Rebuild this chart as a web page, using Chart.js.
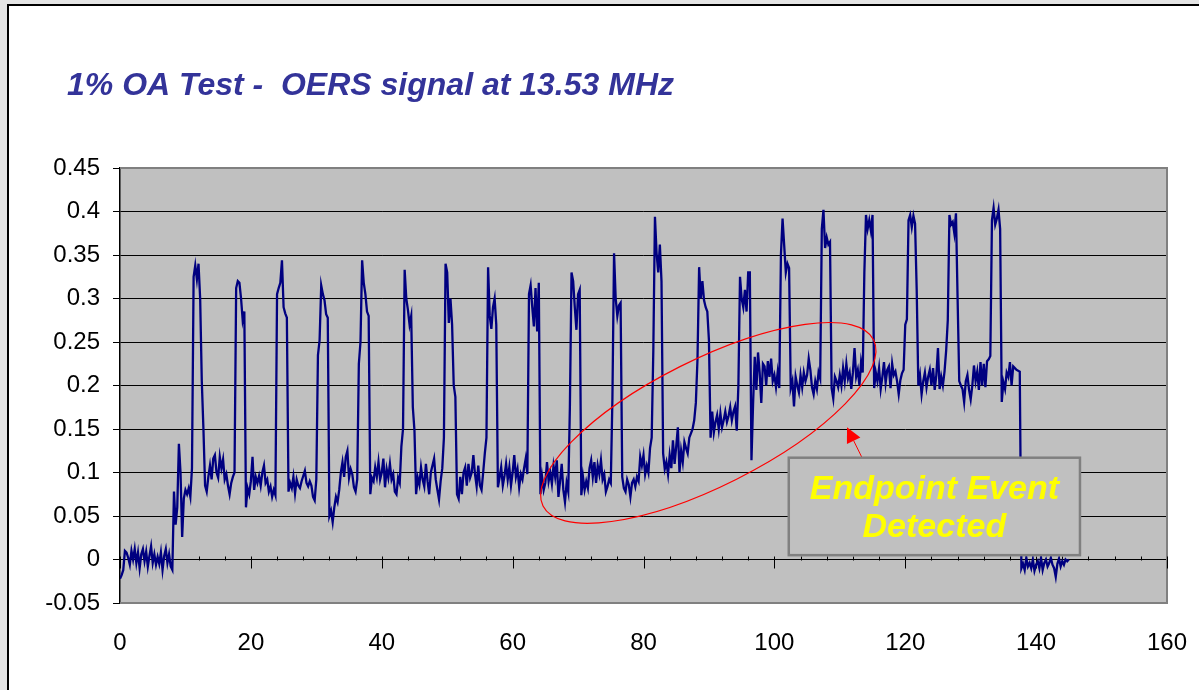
<!DOCTYPE html>
<html>
<head>
<meta charset="utf-8">
<title>1% OA Test - OERS signal at 13.53 MHz</title>
<script src="https://cdn.jsdelivr.net/npm/chart.js@4.4.1/dist/chart.umd.min.js"></script>
<style>
	html, body { margin: 0; padding: 0; width: 1199px; height: 690px; overflow: hidden; background: #e4e4e4; }
	#frame { position: absolute; left: 7px; top: 4px; width: 1200px; height: 700px; background: #fff; border-left: 2px solid #000; border-top: 2px solid #000; }
	#oers-chart { position: absolute; left: 0; top: 0; }
</style>
</head>
<body>
<div id="frame"></div>
<canvas id="oers-chart" width="1199" height="690"></canvas>
<script>
/* global Chart */
'use strict';

// ── Data ───────────────────────────────────────────────────────────────
var CHART_TITLE  = '1% OA Test -  OERS signal at 13.53 MHz';
var SAMPLE_START = 0;
var SAMPLE_STEP  = 0.25;

// OERS signal, one value every 0.25 on the x axis (0 .. 145)
var oersSignal = [
	-0.022, -0.018, -0.012, 0.010, 0.008, 0.002, -0.006, 0.010,   // 0
	0.000, 0.012, -0.004, 0.008, -0.010, 0.006, 0.012, -0.002,    // 2
	0.009, -0.008, 0.004, 0.015, -0.004, 0.006, -0.006, 0.003,    // 4
	-0.005, 0.008, -0.012, 0.004, 0.012, -0.004, 0.006, -0.008,   // 6
	-0.012, 0.078, 0.040, 0.060, 0.133, 0.100, 0.026, 0.070,      // 8
	0.080, 0.075, 0.082, 0.072, 0.105, 0.325, 0.338, 0.322,       // 10
	0.340, 0.300, 0.205, 0.150, 0.085, 0.078, 0.095, 0.108,       // 12
	0.092, 0.116, 0.120, 0.100, 0.094, 0.118, 0.105, 0.115,       // 14
	0.092, 0.098, 0.085, 0.075, 0.088, 0.095, 0.100, 0.312,       // 16
	0.320, 0.318, 0.300, 0.275, 0.285, 0.060, 0.082, 0.075,       // 18
	0.090, 0.118, 0.080, 0.095, 0.088, 0.096, 0.085, 0.100,       // 20
	0.108, 0.088, 0.092, 0.078, 0.084, 0.072, 0.080, 0.074,       // 22
	0.305, 0.312, 0.318, 0.344, 0.290, 0.283, 0.278, 0.078,       // 24
	0.088, 0.082, 0.095, 0.076, 0.092, 0.085, 0.082, 0.090,       // 26
	0.096, 0.102, 0.088, 0.084, 0.090, 0.085, 0.072, 0.068,       // 28
	0.092, 0.235, 0.252, 0.315, 0.305, 0.298, 0.282, 0.278,       // 30
	0.050, 0.056, 0.043, 0.060, 0.072, 0.066, 0.080, 0.100,       // 32
	0.112, 0.095, 0.118, 0.125, 0.094, 0.104, 0.098, 0.083,       // 34
	0.078, 0.092, 0.225, 0.250, 0.344, 0.318, 0.305, 0.285,       // 36
	0.280, 0.075, 0.094, 0.090, 0.106, 0.095, 0.112, 0.092,       // 38
	0.100, 0.116, 0.083, 0.104, 0.094, 0.110, 0.092, 0.098,       // 40
	0.078, 0.075, 0.094, 0.088, 0.130, 0.150, 0.333, 0.300,       // 42
	0.287, 0.270, 0.280, 0.175, 0.148, 0.075, 0.094, 0.086,       // 44
	0.106, 0.092, 0.084, 0.110, 0.090, 0.075, 0.100, 0.108,       // 46
	0.116, 0.092, 0.080, 0.069, 0.090, 0.105, 0.140, 0.340,       // 48
	0.330, 0.272, 0.300, 0.270, 0.200, 0.187, 0.075, 0.070,       // 50
	0.095, 0.075, 0.100, 0.106, 0.085, 0.110, 0.094, 0.100,       // 52
	0.120, 0.098, 0.084, 0.108, 0.085, 0.080, 0.100, 0.122,       // 54
	0.140, 0.336, 0.280, 0.265, 0.290, 0.300, 0.270, 0.083,       // 56
	0.094, 0.106, 0.085, 0.096, 0.110, 0.092, 0.106, 0.085,       // 58
	0.100, 0.120, 0.095, 0.104, 0.083, 0.098, 0.092, 0.105,       // 60
	0.116, 0.098, 0.305, 0.315, 0.290, 0.268, 0.312, 0.262,       // 62
	0.318, 0.075, 0.095, 0.080, 0.088, 0.112, 0.090, 0.100,       // 64
	0.087, 0.108, 0.095, 0.114, 0.072, 0.090, 0.110, 0.080,       // 66
	0.066, 0.088, 0.078, 0.175, 0.330, 0.320, 0.290, 0.264,       // 68
	0.305, 0.310, 0.074, 0.095, 0.080, 0.090, 0.082, 0.105,       // 70
	0.114, 0.095, 0.112, 0.088, 0.108, 0.098, 0.114, 0.092,       // 72
	0.098, 0.078, 0.084, 0.092, 0.088, 0.185, 0.352, 0.300,       // 74
	0.280, 0.292, 0.295, 0.095, 0.082, 0.078, 0.092, 0.086,       // 76
	0.072, 0.088, 0.092, 0.084, 0.095, 0.090, 0.118, 0.108,       // 78
	0.120, 0.098, 0.108, 0.100, 0.128, 0.140, 0.240, 0.394,       // 80
	0.352, 0.330, 0.362, 0.320, 0.122, 0.104, 0.112, 0.098,       // 82
	0.120, 0.105, 0.137, 0.110, 0.130, 0.152, 0.100, 0.125,       // 84
	0.112, 0.135, 0.128, 0.122, 0.140, 0.145, 0.150, 0.160,       // 86
	0.180, 0.230, 0.336, 0.300, 0.320, 0.298, 0.290, 0.285,       // 88
	0.252, 0.140, 0.170, 0.146, 0.158, 0.166, 0.150, 0.168,       // 90
	0.152, 0.160, 0.170, 0.158, 0.165, 0.175, 0.160, 0.170,       // 92
	0.176, 0.148, 0.200, 0.325, 0.300, 0.290, 0.310, 0.285,       // 94
	0.330, 0.330, 0.114, 0.180, 0.233, 0.195, 0.238, 0.215,       // 96
	0.180, 0.225, 0.222, 0.200, 0.228, 0.210, 0.231, 0.205,       // 98
	0.212, 0.198, 0.215, 0.197, 0.350, 0.392, 0.361, 0.330,       // 100
	0.340, 0.335, 0.197, 0.205, 0.176, 0.210, 0.200, 0.192,       // 102
	0.212, 0.198, 0.215, 0.205, 0.212, 0.231, 0.218, 0.198,       // 104
	0.190, 0.205, 0.196, 0.215, 0.208, 0.380, 0.402, 0.358,       // 106
	0.370, 0.362, 0.365, 0.197, 0.185, 0.210, 0.205, 0.198,       // 108
	0.212, 0.200, 0.220, 0.205, 0.225, 0.208, 0.215, 0.196,       // 110
	0.215, 0.243, 0.210, 0.218, 0.200, 0.227, 0.215, 0.330,       // 112
	0.396, 0.380, 0.390, 0.378, 0.396, 0.197, 0.215, 0.205,       // 114
	0.220, 0.196, 0.210, 0.227, 0.203, 0.218, 0.222, 0.197,       // 116
	0.225, 0.212, 0.216, 0.205, 0.190, 0.206, 0.214, 0.218,       // 118
	0.270, 0.276, 0.390, 0.396, 0.382, 0.395, 0.386, 0.310,       // 120
	0.200, 0.212, 0.190, 0.205, 0.215, 0.198, 0.210, 0.218,       // 122
	0.200, 0.220, 0.195, 0.212, 0.243, 0.196, 0.210, 0.200,       // 124
	0.216, 0.240, 0.275, 0.396, 0.385, 0.388, 0.375, 0.398,       // 126
	0.300, 0.205, 0.200, 0.196, 0.181, 0.205, 0.212, 0.195,       // 128
	0.184, 0.200, 0.223, 0.205, 0.216, 0.195, 0.227, 0.200,       // 130
	0.225, 0.198, 0.228, 0.230, 0.234, 0.390, 0.404, 0.385,       // 132
	0.392, 0.402, 0.380, 0.181, 0.204, 0.196, 0.215, 0.210,       // 134
	0.227, 0.200, 0.222, 0.220, 0.218, 0.217, 0.216, -0.010,      // 136
	-0.005, -0.012, 0.002, -0.008, -0.004, -0.010, 0.000, -0.013, // 138
	-0.006, -0.002, -0.010, 0.002, -0.012, -0.004, 0.000, -0.008, // 140
	-0.004, 0.002, -0.006, -0.010, -0.020, -0.005, 0.001, -0.008, // 142
	-0.002, -0.006, 0.000, -0.002, 0.000                          // 144
];

var xTicks      = [ 0, 20, 40, 60, 80, 100, 120, 140, 160 ];
var xTickLabels = [ '0', '20', '40', '60', '80', '100', '120', '140', '160' ];
var yTicks      = [ -0.05, 0, 0.05, 0.1, 0.15, 0.2, 0.25, 0.3, 0.35, 0.4, 0.45 ];
var yTickLabels = [ '-0.05', '0', '0.05', '0.1', '0.15', '0.2', '0.25', '0.3', '0.35', '0.4', '0.45' ];
var X_MINOR_STEP = 4;

var noteLines = [ 'Endpoint Event', 'Detected' ];

// ── Annotation placement (data units, radii in px) ───────────────────────
var ellipseNote = { x: 89.9, y: 0.157, rx: 185, ry: 63, angle: -26.7 };
var noteBox     = { xMin: 102.2, xMax: 146.7, yMin: 0.005, yMax: 0.117 };
var noteArrow   = { fromX: 113.4, fromY: 0.117, toX: 111.1, toY: 0.152 };

var FONT = '"Liberation Sans", Arial, Helvetica, sans-serif';
var TITLE_SHIFT = 37;   // title starts further right than the y labels

// ── Plot background, frame, ticks on the zero line, call-outs ────────────
var oersDecor = {
	id : 'oersDecor',

	afterLayout : function ( chart ) {
		if ( chart.titleBlock ) {
			chart.titleBlock.left  += TITLE_SHIFT;
			chart.titleBlock.right += TITLE_SHIFT;
		}
	},

	beforeDraw : function ( chart ) {
		var a = chart.chartArea;
		var ctx = chart.ctx;
		ctx.save();
		ctx.fillStyle = '#c0c0c0';
		ctx.fillRect( a.left, a.top, a.right - a.left, a.bottom - a.top );
		ctx.restore();
	},

	beforeDatasetsDraw : function ( chart ) {
		var a   = chart.chartArea;
		var ctx = chart.ctx;
		var xs  = chart.scales.x;
		var y0  = Math.round( chart.scales.y.getPixelForValue( 0 ) ) + 0.5;

		ctx.save();
		ctx.strokeStyle = '#808080';
		ctx.lineWidth   = 2;
		ctx.beginPath();
		ctx.moveTo( a.left, a.top );
		ctx.lineTo( a.right, a.top );
		ctx.lineTo( a.right, a.bottom );
		ctx.lineTo( a.left, a.bottom );
		ctx.stroke();

		// tick marks sit on the zero line, major ones cross it
		ctx.strokeStyle = '#000';
		ctx.lineWidth   = 1;
		ctx.beginPath();
		for ( var t = xs.min; t <= xs.max; t += X_MINOR_STEP ) {
			var px = Math.round( xs.getPixelForValue( t ) ) + 0.5;
			var major = xTicks.indexOf( t ) !== -1;
			ctx.moveTo( px, y0 - 4 );
			ctx.lineTo( px, major ? y0 + 8 : y0 );
		}
		ctx.stroke();
		ctx.restore();
	},

	afterDatasetsDraw : function ( chart ) {
		var ctx = chart.ctx;
		var xs  = chart.scales.x;
		var ys  = chart.scales.y;

		ctx.save();

		// red ellipse round the rising section
		ctx.strokeStyle = '#ff0000';
		ctx.lineWidth   = 1.2;
		ctx.beginPath();
		ctx.ellipse(
			xs.getPixelForValue( ellipseNote.x ),
			ys.getPixelForValue( ellipseNote.y ),
			ellipseNote.rx, ellipseNote.ry,
			ellipseNote.angle * Math.PI / 180, 0, Math.PI * 2
		);
		ctx.stroke();

		// arrow from the note box
		var ax = xs.getPixelForValue( noteArrow.fromX );
		var ay = ys.getPixelForValue( noteArrow.fromY );
		var bx = xs.getPixelForValue( noteArrow.toX );
		var by = ys.getPixelForValue( noteArrow.toY );
		var ang = Math.atan2( by - ay, bx - ax );
		var headLen = 15;
		var headW   = 7.5;
		var hx = bx - headLen * Math.cos( ang );
		var hy = by - headLen * Math.sin( ang );
		ctx.lineWidth = 1;
		ctx.beginPath();
		ctx.moveTo( ax, ay );
		ctx.lineTo( hx, hy );
		ctx.stroke();
		ctx.fillStyle = '#ff0000';
		ctx.beginPath();
		ctx.moveTo( bx, by );
		ctx.lineTo( hx + headW * Math.sin( ang ), hy - headW * Math.cos( ang ) );
		ctx.lineTo( hx - headW * Math.sin( ang ), hy + headW * Math.cos( ang ) );
		ctx.closePath();
		ctx.fill();

		// note box
		var l = xs.getPixelForValue( noteBox.xMin );
		var r = xs.getPixelForValue( noteBox.xMax );
		var t = ys.getPixelForValue( noteBox.yMax );
		var b = ys.getPixelForValue( noteBox.yMin );
		ctx.fillStyle = '#c0c0c0';
		ctx.fillRect( l, t, r - l, b - t );
		ctx.strokeStyle = '#808080';
		ctx.lineWidth   = 2.5;
		ctx.strokeRect( l, t, r - l, b - t );

		ctx.fillStyle    = '#ffff00';
		ctx.font         = 'italic bold 34px ' + FONT;
		ctx.textAlign    = 'center';
		ctx.textBaseline = 'alphabetic';
		var cx = ( l + r ) / 2;
		var cy = ( t + b ) / 2;
		ctx.fillText( noteLines[ 0 ], cx, cy - 7 );
		ctx.fillText( noteLines[ 1 ], cx, cy + 31 );

		ctx.restore();
	},
};

// ── Line chart: OERS signal ──────────────────────────────────────────────
var points = oersSignal.map( function ( v, i ) {
	return { x : SAMPLE_START + i * SAMPLE_STEP, y : v };
} );

new Chart( document.getElementById( 'oers-chart' ), {
	type : 'line',
	data : {
		datasets : [ {
			label       : 'OERS signal',
			data        : points,
			borderColor : '#000080',
			borderWidth : 2.3,
			pointRadius : 0,
			tension     : 0,
			fill        : false,
		} ],
	},
	options : {
		responsive       : false,
		animation        : false,
		devicePixelRatio : 1,
		events           : [],
		layout : {
			autoPadding : false,
			padding     : { left : 30, right : 32, top : 0, bottom : 27 },
		},
		plugins : {
			legend  : { display : false },
			tooltip : { enabled : false },
			title   : {
				display : true,
				text    : CHART_TITLE,
				align   : 'start',
				color   : '#333399',
				font    : { family : FONT, size : 32, weight : 'bold', style : 'italic', lineHeight : 1 },
				padding : { top : 70, bottom : 66 },
			},
		},
		scales : {
			x : {
				type : 'linear',
				min  : 0,
				max  : 160,
				afterBuildTicks : function ( scale ) {
					scale.ticks = xTicks.map( function ( v ) { return { value : v }; } );
				},
				afterFit : function ( scale ) { scale.height = 60; },
				ticks  : {
					color       : '#000',
					font        : { family : FONT, size : 24 },
					padding     : 10,
					maxRotation : 0,
					autoSkip    : false,
					callback    : function ( v, i ) { return xTickLabels[ i ]; },
				},
				grid   : { display : false, drawTicks : true, tickLength : 16 },
				border : { display : false },
			},
			y : {
				min : -0.05,
				max : 0.45,
				afterBuildTicks : function ( scale ) {
					scale.ticks = yTicks.map( function ( v ) { return { value : v }; } );
				},
				afterFit : function ( scale ) { scale.width = 90; },
				ticks  : {
					color    : '#000',
					font     : { family : FONT, size : 24 },
					padding  : 13,
					autoSkip : false,
					callback : function ( v, i ) { return yTickLabels[ i ]; },
				},
				grid   : {
					color : function ( c ) {
						var v = c.tick ? c.tick.value : null;
						return ( v === yTicks[ 0 ] || v === yTicks[ yTicks.length - 1 ] ) ? 'rgba(0,0,0,0)' : '#000';
					},
					tickColor  : '#000',
					tickLength : 7,
					lineWidth  : 1,
				},
				border : { display : true, color : '#000', width : 1.5 },
			},
		},
	},
	plugins : [ oersDecor ],
} );
</script>
</body>
</html>
